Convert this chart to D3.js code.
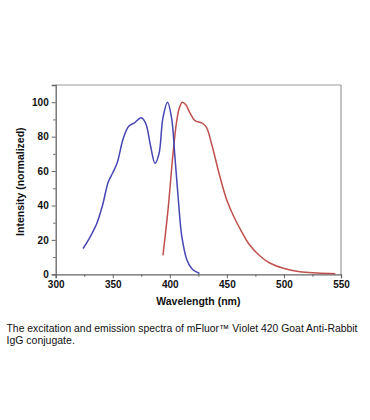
<!DOCTYPE html>
<html>
<head>
<meta charset="utf-8">
<script src="https://cdn.jsdelivr.net/npm/d3@7"></script>
<style>
  body { margin: 0; background: #fff; }
  text { font-family: "Liberation Sans", Arial, sans-serif; }
</style>
</head>
<body>
<div id="chart"></div>
<script>
const width = 370;
const height = 420;
const margin = {top: 85, right: 29, bottom: 145.7, left: 55.7};

// excitation (blue)
const exWavelength = [324, 330, 336, 341, 346, 350, 354, 359, 364, 369, 375, 379, 383, 387, 390.5, 394, 398, 401.5, 404.5, 407.5, 410.5, 415, 419, 422, 426];
const exIntensity  = [15, 21.5, 29.5, 40, 53.5, 59, 65, 78.5, 86, 88, 91, 87.5, 75, 64.5, 70, 91, 100, 91, 68, 43, 22, 8.3, 3.5, 1.8, 0.5];

// emission (red)
const emWavelength = [394, 398.5, 402.5, 406, 408.5, 411, 414, 417.5, 422, 428, 432, 436.5, 444, 450, 455.5, 463, 470, 479, 488, 499.5, 514, 529, 545];
const emIntensity  = [11, 38, 68, 89, 97, 100, 98.5, 94, 89.3, 88, 85.5, 76, 56.5, 43, 34.3, 24.7, 17, 10.6, 6.4, 3.5, 1.5, 0.75, 0.3];

const xTicks = [300, 350, 400, 450, 500, 550];
const yTicks = [0, 20, 40, 60, 80, 100];
const xMinor = [325, 375, 425, 475, 525];
const yMinor = [10, 30, 50, 70, 90];

const xLabel = 'Wavelength (nm)';
const yLabel = 'Intensity (normalized)';
const caption = [
  'The excitation and emission spectra of mFluor\u2122 Violet 420 Goat Anti-Rabbit',
  'IgG conjugate.'
];

const innerW = width - margin.left - margin.right;
const innerH = height - margin.top - margin.bottom;

const svg = d3.select('#chart')
  .append('svg')
  .attr('width', width)
  .attr('height', height);

const g = svg.append('g')
  .attr('transform', `translate(${margin.left},${margin.top})`);

const x = d3.scaleLinear().domain([300, 550]).range([0, innerW]);
const y = d3.scaleLinear().domain([0, 110]).range([innerH, 0]);

// frame (top / right lighter)
g.append('line').attr('x1', 0).attr('x2', innerW).attr('y1', 0).attr('y2', 0)
  .attr('stroke', '#999').attr('stroke-width', 1.2);
g.append('line').attr('x1', innerW).attr('x2', innerW).attr('y1', 0).attr('y2', innerH)
  .attr('stroke', '#999').attr('stroke-width', 1.2);

// bottom axis
const xAxis = g.append('g')
  .attr('transform', `translate(0,${innerH})`)
  .call(d3.axisBottom(x).tickValues(xTicks).tickSize(4).tickPadding(3));
g.append('g')
  .attr('transform', `translate(0,${innerH})`)
  .call(d3.axisBottom(x).tickValues(xMinor).tickSize(2.5).tickFormat(''))
  .call(a => a.select('.domain').remove());

// left axis
const yAxis = g.append('g')
  .call(d3.axisLeft(y).tickValues(yTicks).tickSize(4).tickPadding(3));
g.append('g')
  .call(d3.axisLeft(y).tickValues(yMinor).tickSize(2.5).tickFormat(''))
  .call(a => a.select('.domain').remove());

g.selectAll('.domain').attr('stroke', '#666').attr('stroke-width', 1.3);
g.selectAll('.tick line').attr('stroke', '#666');
g.selectAll('.tick text')
  .attr('fill', '#111')
  .style('font-size', '10px')
  .style('font-weight', 'bold')
  .style('font-family', '"Liberation Sans", Arial, sans-serif');

// curves
const line = d3.line()
  .x(d => x(d[0]))
  .y(d => y(d[1]))
  .curve(d3.curveCatmullRom.alpha(0.5));

const exData = d3.zip(exWavelength, exIntensity);
const emData = d3.zip(emWavelength, emIntensity);

g.append('path')
  .datum(emData)
  .attr('d', line)
  .attr('fill', 'none')
  .attr('stroke', '#c0504d')
  .attr('stroke-width', 1.5);

g.append('path')
  .datum(exData)
  .attr('d', line)
  .attr('fill', 'none')
  .attr('stroke', '#4646b4')
  .attr('stroke-width', 1.5);

// axis titles
g.append('text')
  .attr('x', innerW / 2)
  .attr('y', innerH + 31)
  .attr('text-anchor', 'middle')
  .style('font-size', '10.5px')
  .style('font-weight', 'bold')
  .attr('fill', '#111')
  .text(xLabel);

g.append('text')
  .attr('transform', `translate(${-32},${innerH / 2 + 2}) rotate(-90)`)
  .attr('text-anchor', 'middle')
  .style('font-size', '10.5px')
  .style('font-weight', 'bold')
  .attr('fill', '#111')
  .text(yLabel);

// caption
svg.append('text')
  .attr('x', 6.5)
  .attr('y', 331.5)
  .style('font-size', '10.5px')
  .attr('fill', '#111')
  .attr('textLength', 351)
  .attr('lengthAdjust', 'spacingAndGlyphs')
  .text(caption[0]);

svg.append('text')
  .attr('x', 6.5)
  .attr('y', 343.5)
  .style('font-size', '10.5px')
  .attr('fill', '#111')
  .text(caption[1]);
</script>
</body>
</html>
